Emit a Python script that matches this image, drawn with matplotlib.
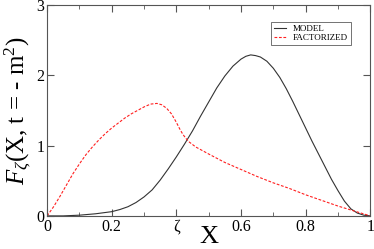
import matplotlib
matplotlib.use("Agg")
import matplotlib.pyplot as plt
from matplotlib.ticker import MultipleLocator

plt.rcParams['font.family'] = 'Liberation Serif'
plt.rcParams['mathtext.fontset'] = 'custom'
plt.rcParams['mathtext.rm'] = 'Liberation Serif'
plt.rcParams['mathtext.it'] = 'Liberation Serif:italic'

# model curve (black solid)
x_model = [0, 0.05, 0.1, 0.15, 0.2, 0.225, 0.25, 0.275, 0.3, 0.325, 0.35, 0.375,
           0.4, 0.425, 0.45, 0.475, 0.5, 0.525, 0.55, 0.575, 0.6, 0.615, 0.63,
           0.645, 0.66, 0.68, 0.7, 0.72, 0.74, 0.76, 0.78, 0.8, 0.82, 0.84,
           0.86, 0.88, 0.9, 0.92, 0.94, 0.96, 0.98, 1.0]
y_model = [0, 0, 0.01, 0.03, 0.06, 0.09, 0.13, 0.19, 0.27, 0.37, 0.51, 0.67,
           0.84, 1.02, 1.21, 1.42, 1.62, 1.82, 1.99, 2.13, 2.23, 2.27, 2.29,
           2.28, 2.26, 2.2, 2.1, 1.97, 1.81, 1.63, 1.44, 1.25, 1.06, 0.88,
           0.7, 0.52, 0.36, 0.21, 0.1, 0.04, 0.01, 0.0]

# factorized curve (red dashed)
x_fact = [0, 0.02, 0.04, 0.06, 0.08, 0.1, 0.12, 0.14, 0.16, 0.18, 0.2, 0.22,
          0.24, 0.26, 0.28, 0.3, 0.32, 0.34, 0.355, 0.37, 0.385, 0.4, 0.41,
          0.42, 0.43, 0.44, 0.46, 0.48, 0.5, 0.55, 0.6, 0.65, 0.7, 0.75, 0.8,
          0.85, 0.9, 0.95, 1.0]
y_fact = [0, 0.13, 0.28, 0.44, 0.6, 0.74, 0.87, 0.98, 1.08, 1.17, 1.25, 1.32,
          1.39, 1.45, 1.5, 1.55, 1.59, 1.6, 1.58, 1.53, 1.45, 1.33, 1.24,
          1.16, 1.1, 1.05, 0.98, 0.93, 0.88, 0.76, 0.66, 0.56, 0.47, 0.39, 0.3,
          0.22, 0.14, 0.07, 0.0]

xticks = [0, 0.2, 0.4, 0.6, 0.8, 1.0]
xticklabels = ["0", "0.2", "ζ", "0.6", "0.8", "1"]
yticks = [0, 1, 2, 3]

fig = plt.figure(figsize=(3.74, 2.49), dpi=100)
ax = fig.add_axes([0.126, 0.133, 0.864, 0.847])

ax.plot(x_model, y_model, color="#333333", lw=0.8, label="MODEL")
ax.plot(x_fact, y_fact, color="#ff2020", lw=0.8, ls=(0, (2.5, 1.5)), label="FACTORIZED")

ax.set_xlim(0, 1)
ax.set_ylim(0, 3)
ax.set_xticks(xticks)
ax.set_xticklabels(xticklabels)
ax.set_yticks(yticks)
ax.xaxis.set_minor_locator(MultipleLocator(0.1))
ax.tick_params(which="both", direction="in", top=True, right=True,
               labelsize=11.5, pad=2, color="#555555")
ax.tick_params(which="major", length=5)
ax.tick_params(which="minor", length=3)
for s in ax.spines.values():
    s.set_color("#555555")

ax.set_xlabel("X", fontsize=19, labelpad=-6)
ax.set_ylabel(r"$F_{\zeta}$(X, t = - m$^2$)", fontsize=18, labelpad=2)

leg = ax.legend(loc="upper right", bbox_to_anchor=(0.94, 0.92), fontsize=6.5,
                frameon=True, fancybox=False, handlelength=1.3, borderpad=0.3,
                labelspacing=0.1, handletextpad=0.8, borderaxespad=0)
leg.get_frame().set_edgecolor("#333333")
leg.get_frame().set_linewidth(0.6)

fig.savefig("out.png", dpi=100)
